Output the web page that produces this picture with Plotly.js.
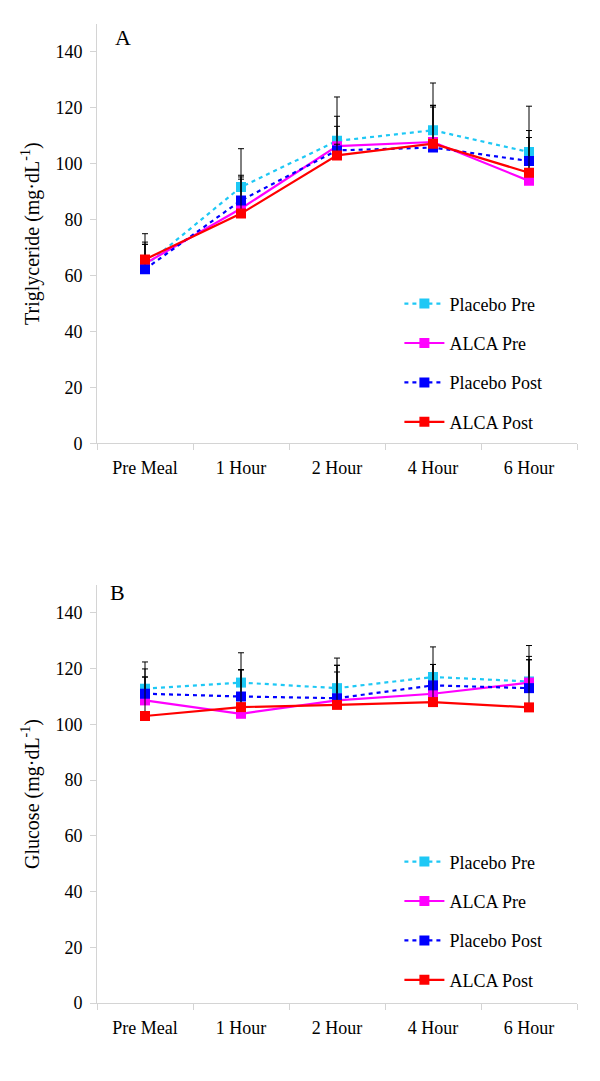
<!DOCTYPE html>
<html>
<head>
<meta charset="utf-8">
<script src="https://cdn.plot.ly/plotly-3.0.1.min.js"></script>
<style>html,body{margin:0;padding:0;background:#fff}#chart{width:600px;height:1081px}</style>
</head>
<body>
<div id="chart"></div>
<script>
// Categories
var categories = ["Pre Meal", "1 Hour", "2 Hour", "4 Hour", "6 Hour"];
var seriesNames = ["Placebo Pre", "ALCA Pre", "Placebo Post", "ALCA Post"];

// Panel A: Triglyceride (mg·dL-1)
var tgPlaceboPre  = [63.5, 91.7, 108.2, 112.0, 104.2];
var tgAlcaPre     = [64.3, 84.0, 106.3, 107.8, 93.9];
var tgPlaceboPost = [62.3, 86.9, 104.8, 105.8, 101.0];
var tgAlcaPost    = [65.8, 82.2, 103.0, 107.2, 96.8];
// upward error values
var tgErrPlaceboPre  = [8.5, 13.7, 15.7, 16.9, 16.4];
var tgErrAlcaPre     = [6.9, 11.3, 10.7, 12.5, 15.5];
var tgErrPlaceboPost = [12.7, 9.0, 8.6, 15.1, 10.9];
var tgErrAlcaPost    = [5.4, 12.3, 4.0, 13.7, 12.6];

// Panel B: Glucose (mg·dL-1)
var glPlaceboPre  = [112.8, 115.0, 113.0, 117.0, 115.4];
var glAlcaPre     = [108.6, 103.8, 108.6, 111.0, 115.0];
var glPlaceboPost = [111.0, 110.0, 109.4, 114.0, 113.0];
var glAlcaPost    = [103.0, 106.2, 107.0, 108.0, 106.1];
var glErrPlaceboPre  = [9.6, 10.7, 10.8, 10.8, 12.9];
var glErrAlcaPre     = [11.3, 15.8, 12.6, 10.5, 9.4];
var glErrPlaceboPost = [6.0, 9.6, 9.4, 7.5, 10.2];
var glErrAlcaPost    = [14.0, 13.4, 14.2, 13.5, 17.1];

var colors = ["#1ec8f5", "#ff00ff", "#0000ff", "#ff0000"];
var dashes = ["4px,4px", "solid", "4px,4px", "solid"];
var FAM = "Liberation Serif, Times New Roman, serif";

function f(size) { return {family: FAM, size: size, color: "#000"}; }

function mk(name, idx, y, err, xa, ya, leg) {
  return {
    type: "scatter", mode: "lines+markers", name: name,
    x: categories, y: y, xaxis: xa, yaxis: ya, legend: leg,
    legendgroup: leg + name,
    line: {color: colors[idx], width: 2.2, dash: dashes[idx]},
    marker: {symbol: "square", size: 10, color: colors[idx]},
    error_y: {type: "data", symmetric: false, array: err,
              arrayminus: err.map(function(){return 0;}),
              color: "#000", thickness: 1, width: 3}
  };
}

var data = [
  mk(seriesNames[0], 0, tgPlaceboPre, tgErrPlaceboPre, "x", "y", "legend"),
  mk(seriesNames[1], 1, tgAlcaPre, tgErrAlcaPre, "x", "y", "legend"),
  mk(seriesNames[2], 2, tgPlaceboPost, tgErrPlaceboPost, "x", "y", "legend"),
  mk(seriesNames[3], 3, tgAlcaPost, tgErrAlcaPost, "x", "y", "legend"),
  mk(seriesNames[0], 0, glPlaceboPre, glErrPlaceboPre, "x2", "y2", "legend2"),
  mk(seriesNames[1], 1, glAlcaPre, glErrAlcaPre, "x2", "y2", "legend2"),
  mk(seriesNames[2], 2, glPlaceboPost, glErrPlaceboPost, "x2", "y2", "legend2"),
  mk(seriesNames[3], 3, glAlcaPost, glErrAlcaPost, "x2", "y2", "legend2")
];

var axisLine = "#d4d4d4";
function xax(anchor) {
  return {anchor: anchor, type: "category", range: [-0.5, 4.5], showgrid: false,
    showline: true, linecolor: axisLine, linewidth: 1, ticks: "outside", ticklen: 6,
    tickcolor: axisLine, tickson: "boundaries", zeroline: false, tickfont: f(18),
    ticklabelstandoff: 8, fixedrange: true};
}
function yax(anchor, domain, title) {
  return {anchor: anchor, domain: domain, range: [0, 150], dtick: 20, tick0: 0,
    showgrid: false, showline: true, linecolor: axisLine, linewidth: 1, ticks: "outside",
    ticklen: 6, tickcolor: axisLine, zeroline: false, tickfont: f(18),
    ticklabelstandoff: 4,
    title: {text: title, font: f(20), standoff: 10}};
}

var layout = {
  width: 600, height: 1081,
  margin: {l: 97, r: 23, t: 24, b: 78},
  paper_bgcolor: "#fff", plot_bgcolor: "#fff",
  font: f(18), showlegend: true,
  xaxis: xax("y"),
  yaxis: yax("x", [0.5716, 1], "Triglyceride (mg·dL<sup>-1</sup>)"),
  xaxis2: xax("y2"),
  yaxis2: yax("x2", [0, 0.4269], "Glucose (mg·dL<sup>-1</sup>)"),
  legend: {x: 0.63, y: 0.733, xanchor: "left", yanchor: "top", traceorder: "grouped",
           tracegroupgap: 13, bgcolor: "rgba(0,0,0,0)", font: f(18), itemwidth: 40},
  legend2: {x: 0.63, y: 0.163, xanchor: "left", yanchor: "top", traceorder: "grouped",
           tracegroupgap: 13, bgcolor: "rgba(0,0,0,0)", font: f(18), itemwidth: 40},
  annotations: [
    {text: "A", xref: "paper", yref: "paper", x: 0.054, y: 0.9864, xanchor: "center",
     yanchor: "middle", showarrow: false, font: f(22)},
    {text: "B", xref: "paper", yref: "paper", x: 0.042, y: 0.4194, xanchor: "center",
     yanchor: "middle", showarrow: false, font: f(22)}
  ]
};

Plotly.newPlot("chart", data, layout, {displayModeBar: false, staticPlot: true});
</script>
</body>
</html>
